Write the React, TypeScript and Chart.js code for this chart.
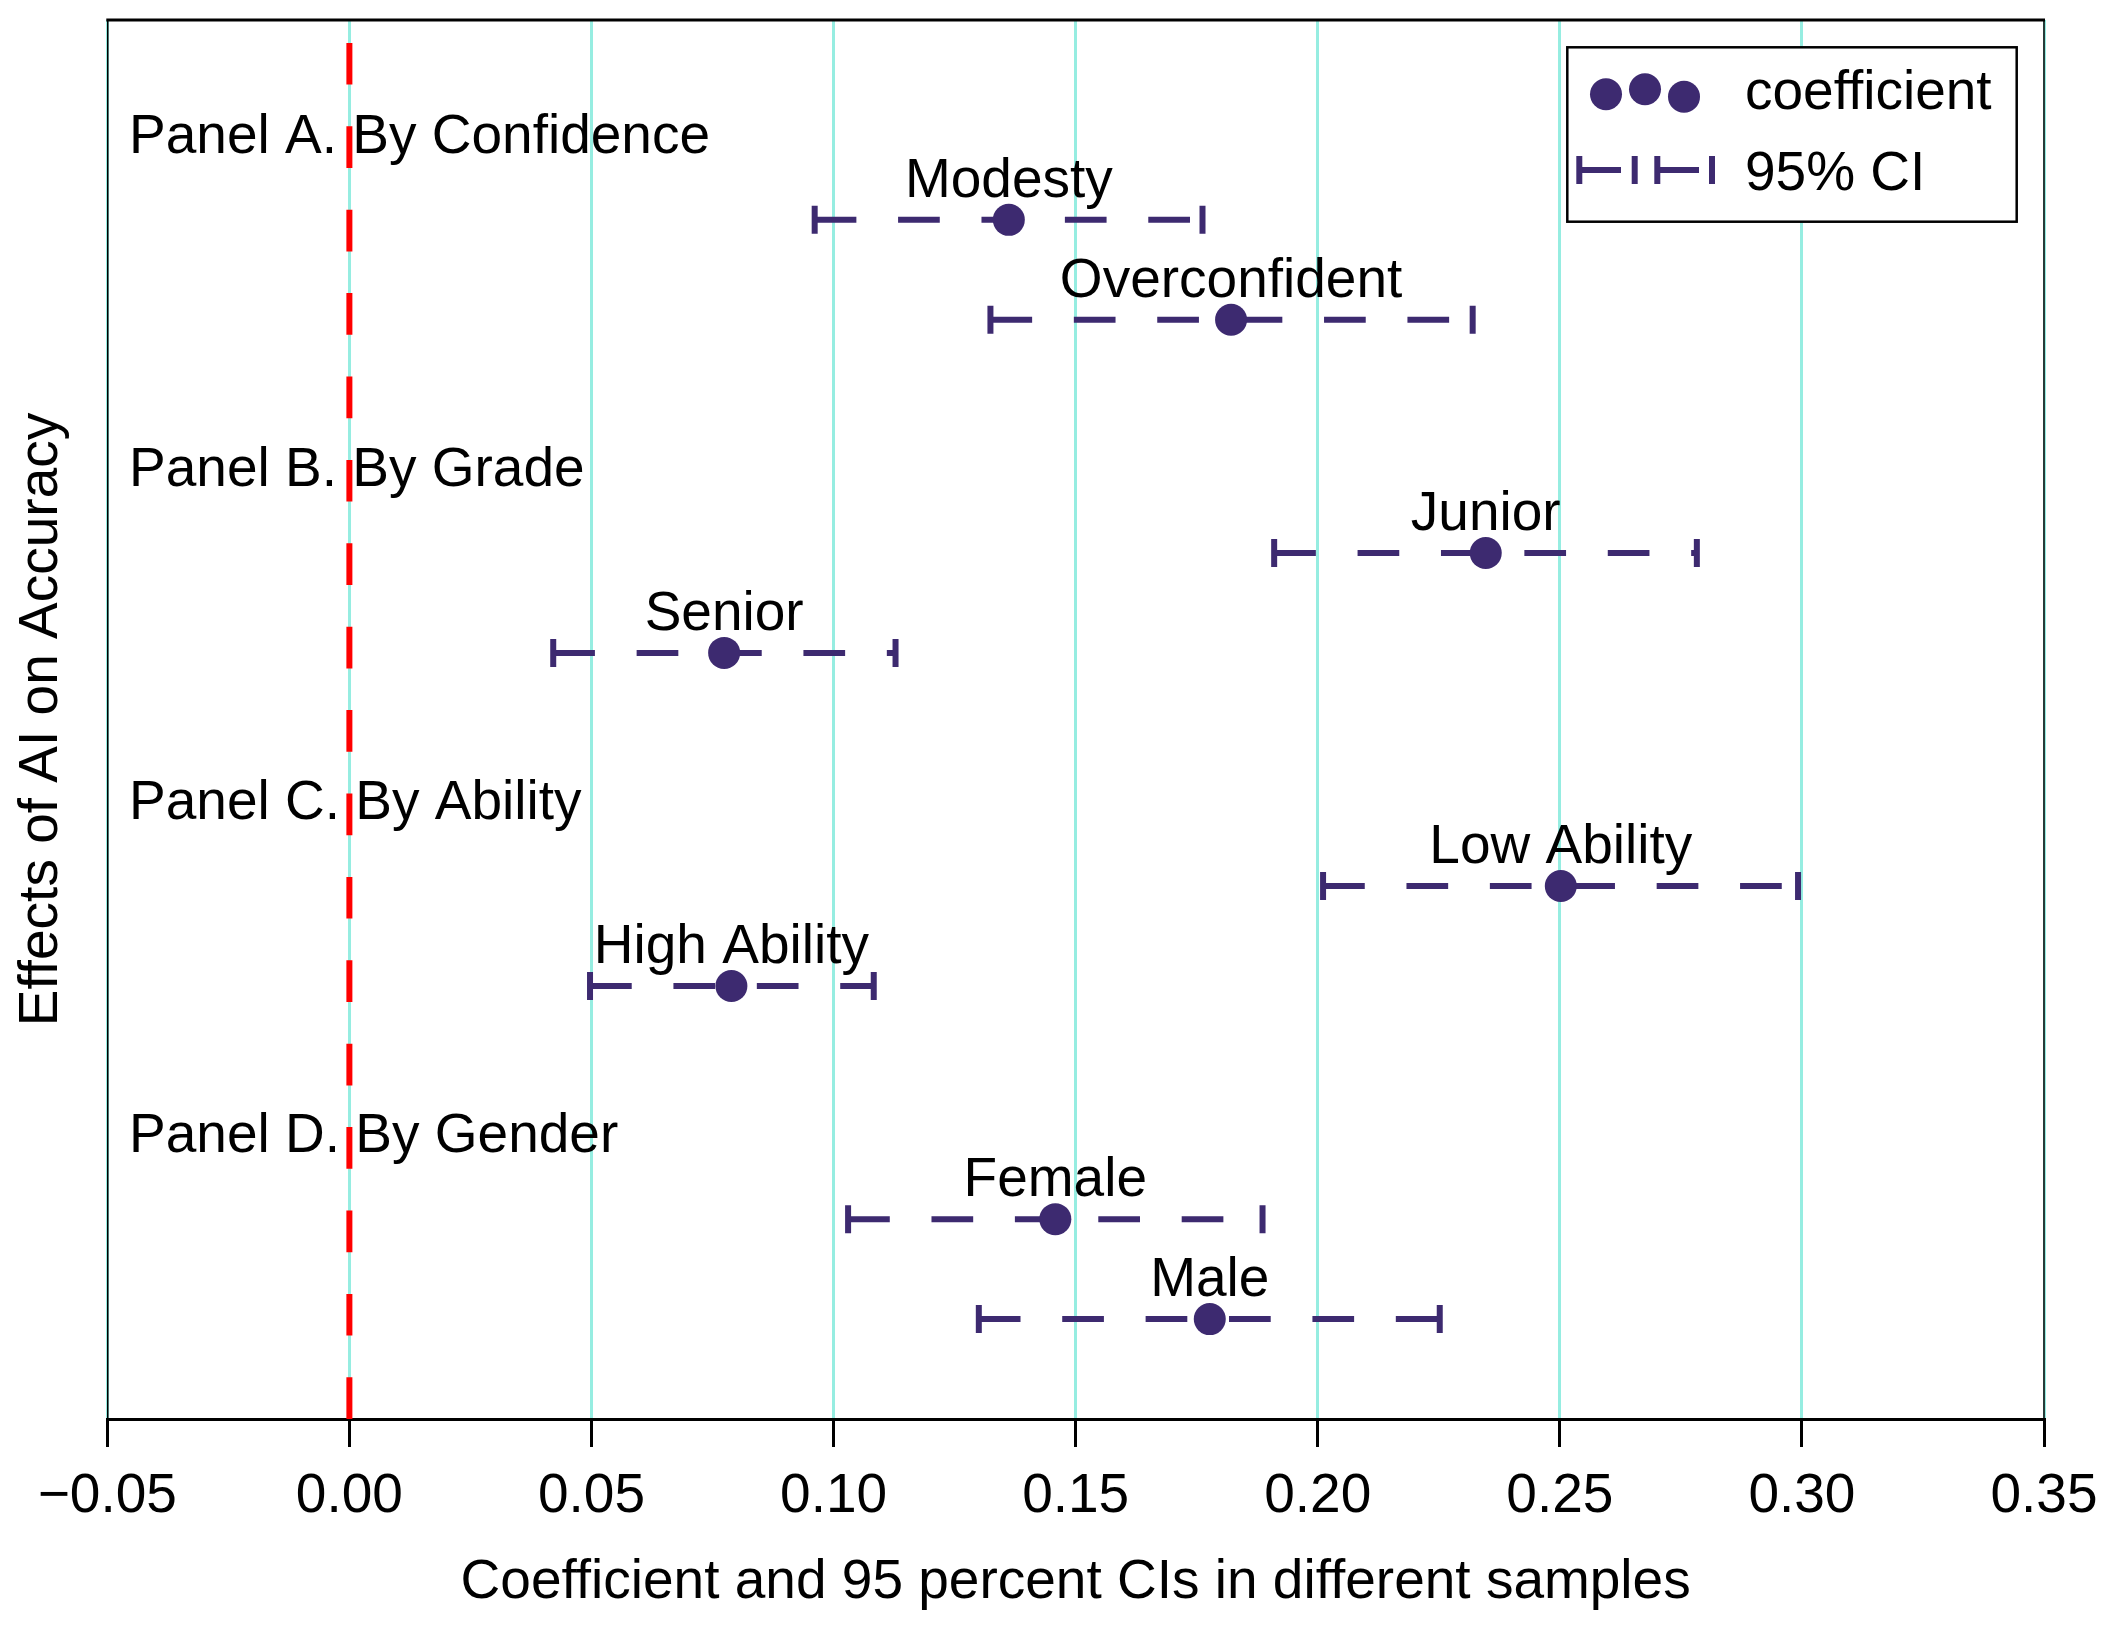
import React, { useEffect, useRef } from 'react';
import { Chart, registerables } from 'chart.js';

Chart.register(...registerables);

// ---- data ----
const categories = ['Modesty', 'Overconfident', 'Junior', 'Senior', 'Low Ability', 'High Ability', 'Female', 'Male'];
const coefficients = [0.1362, 0.1821, 0.2347, 0.0774, 0.2502, 0.0789, 0.1458, 0.1777];
const ciLower = [0.0961, 0.1324, 0.1910, 0.0421, 0.2011, 0.0497, 0.1030, 0.1300];
const ciUpper = [0.1762, 0.2320, 0.2783, 0.1128, 0.2992, 0.1083, 0.1886, 0.2252];
const rowPositions = [33, 30, 23, 20, 13, 10, 3, 0];
const panelLabels = ['Panel A. By Confidence', 'Panel B. By Grade', 'Panel C. By Ability', 'Panel D. By Gender'];
const panelPositions = [35.5, 25.5, 15.5, 5.5];
const panelLabelX = -0.0455;
const xTicks = [-0.05, 0, 0.05, 0.1, 0.15, 0.2, 0.25, 0.3, 0.35];
const xRange = [-0.05, 0.35];
const yRange = [-3, 39];
const zeroLineX = 0;
const legendLabels = ['coefficient', '95% CI'];

const FONT = "'Liberation Sans', Arial, Helvetica, sans-serif";
const PURPLE = '#3d2a70';
const GRID = '#96ede1';

const annotatePlugin = {
  id: 'annotate',
  afterDatasetsDraw(chart: any) {
    const { ctx, chartArea, scales } = chart;
    const xs = scales.x;
    const ys = scales.y;
    ctx.save();
    ctx.font = `55px ${FONT}`;
    ctx.fillStyle = '#000';
    ctx.textBaseline = 'alphabetic';
    ctx.textAlign = 'center';
    categories.forEach((c, i) => {
      ctx.fillText(c, xs.getPixelForValue(coefficients[i]), ys.getPixelForValue(rowPositions[i]) - 23);
    });
    ctx.textAlign = 'left';
    panelLabels.forEach((p, i) => {
      ctx.fillText(p, xs.getPixelForValue(panelLabelX), ys.getPixelForValue(panelPositions[i]) + 16.5);
    });

    // top and right spines
    ctx.strokeStyle = '#000';
    ctx.setLineDash([]);
    ctx.lineWidth = 3;
    ctx.beginPath();
    ctx.moveTo(chartArea.left - 1, chartArea.top);
    ctx.lineTo(chartArea.right + 1, chartArea.top);
    ctx.stroke();
    ctx.lineWidth = 1.5;
    ctx.beginPath();
    ctx.moveTo(chartArea.right, chartArea.top);
    ctx.lineTo(chartArea.right, chartArea.bottom);
    ctx.stroke();

    // legend
    const bx = chartArea.right - 27.3;
    const bl = bx - 449.4;
    const bt = chartArea.top + 27.3;
    const bh = 174.4;
    ctx.fillStyle = '#fff';
    ctx.fillRect(bl, bt, bx - bl, bh);
    ctx.lineWidth = 2.5;
    ctx.strokeStyle = '#000';
    ctx.strokeRect(bl, bt, bx - bl, bh);

    ctx.fillStyle = PURPLE;
    const dots = [[38.7, 47], [77.7, 42], [116.7, 49.4]];
    dots.forEach(([dx, dy]) => {
      ctx.beginPath();
      ctx.arc(bl + dx, bt + dy, 16, 0, Math.PI * 2);
      ctx.fill();
    });

    const ey = bt + 122.7;
    const bars = [[12, 67.4], [90, 144.7]];
    ctx.strokeStyle = PURPLE;
    bars.forEach(([a, b]) => {
      ctx.lineWidth = 6;
      ctx.setLineDash([41.7, 41.7]);
      ctx.beginPath();
      ctx.moveTo(bl + a, ey);
      ctx.lineTo(bl + b, ey);
      ctx.stroke();
      ctx.setLineDash([]);
      [a, b].forEach((cx) => {
        ctx.beginPath();
        ctx.moveTo(bl + cx, ey - 14);
        ctx.lineTo(bl + cx, ey + 14);
        ctx.stroke();
      });
    });

    ctx.fillStyle = '#000';
    ctx.textAlign = 'left';
    ctx.font = `55px ${FONT}`;
    ctx.fillText(legendLabels[0], bl + 177.7, bt + 61.7);
    ctx.fillText(legendLabels[1], bl + 177.7, bt + 142.7);
    ctx.restore();
  },
};

export default function App() {
  const ref = useRef<HTMLCanvasElement>(null);

  useEffect(() => {
    const canvas = ref.current;
    if (!canvas) return;

    const pointDataset: any = {
      type: 'scatter',
      label: 'coefficient',
      data: coefficients.map((v, i) => ({ x: v, y: rowPositions[i] })),
      pointRadius: 16,
      pointHoverRadius: 16,
      pointBackgroundColor: PURPLE,
      pointBorderColor: PURPLE,
      pointBorderWidth: 0,
      showLine: false,
      order: 0,
    };

    const ciDatasets: any[] = categories.map((c, i) => ({
      type: 'scatter',
      label: c + ' 95% CI',
      data: [
        { x: ciLower[i], y: rowPositions[i] },
        { x: ciUpper[i], y: rowPositions[i] },
      ],
      showLine: true,
      borderColor: PURPLE,
      borderWidth: 6,
      borderDash: [41.7, 41.7],
      pointStyle: 'line',
      pointRotation: 90,
      pointRadius: 14,
      pointHoverRadius: 14,
      pointBorderWidth: 6,
      pointBorderColor: PURPLE,
      pointBackgroundColor: PURPLE,
      order: 1,
    }));

    const zeroDataset: any = {
      type: 'scatter',
      label: 'zero',
      data: [
        { x: zeroLineX, y: yRange[0] },
        { x: zeroLineX, y: yRange[1] },
      ],
      showLine: true,
      borderColor: '#ff0000',
      borderWidth: 6,
      borderDash: [41.7, 41.7],
      pointRadius: 0,
      pointHoverRadius: 0,
      order: 2,
    };

    const chart = new Chart(canvas, {
      type: 'scatter',
      data: { datasets: [pointDataset, ...ciDatasets, zeroDataset] },
      plugins: [annotatePlugin],
      options: {
        animation: false,
        responsive: false,
        devicePixelRatio: 1,
        layout: { padding: { top: 20, right: 74, left: 0, bottom: 0 } },
        plugins: {
          legend: { display: false },
          tooltip: { enabled: false },
        },
        events: [],
        scales: {
          x: {
            type: 'linear',
            min: xRange[0],
            max: xRange[1],
            afterBuildTicks: (scale: any) => {
              scale.ticks = xTicks.map((v) => ({ value: v }));
            },
            afterFit: (scale: any) => {
              scale.height = 213;
            },
            ticks: {
              autoSkip: false,
              maxRotation: 0,
              minRotation: 0,
              padding: 17,
              color: '#000',
              font: { size: 55, family: FONT, lineHeight: 1.2 },
              callback: (v: any) => {
                const n = Number(v);
                return (n < -1e-9 ? '\u2212' : '') + Math.abs(n).toFixed(2);
              },
            },
            grid: {
              display: true,
              drawOnChartArea: true,
              color: GRID,
              lineWidth: 3,
              drawTicks: true,
              tickLength: 28,
              tickWidth: 3,
              tickColor: '#000',
            },
            border: { display: true, color: '#000', width: 3 },
            title: {
              display: true,
              text: 'Coefficient and 95 percent CIs in different samples',
              color: '#000',
              font: { size: 55, family: FONT, lineHeight: 1.2 },
              padding: { top: 0, bottom: 16 },
            },
          },
          y: {
            type: 'linear',
            min: yRange[0],
            max: yRange[1],
            afterFit: (scale: any) => {
              scale.width = 107.3;
            },
            ticks: { display: false },
            grid: { display: false, drawTicks: false },
            border: { display: true, color: '#000', width: 1.5 },
            title: {
              display: true,
              text: 'Effects of AI on Accuracy',
              color: '#000',
              font: { size: 55, family: FONT, lineHeight: 1.2 },
              padding: { top: 9, bottom: 0 },
            },
          },
        },
      } as any,
    });

    return () => {
      chart.destroy();
    };
  }, []);

  return (
    <div style={{ position: 'fixed', left: 0, top: 0, width: 2118, height: 1632, background: '#fff' }}>
      <canvas ref={ref} width={2118} height={1632} style={{ display: 'block' }} />
    </div>
  );
}
